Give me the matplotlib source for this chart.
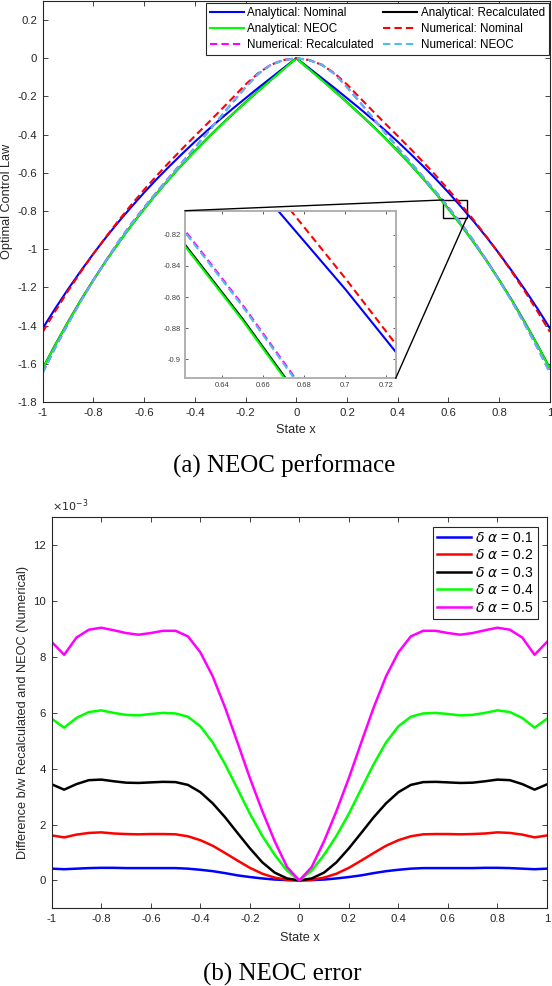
import matplotlib
matplotlib.use("Agg")
import matplotlib.pyplot as plt
from matplotlib.ticker import FormatStrFormatter
from matplotlib.patches import Rectangle, ConnectionPatch

plt.rcParams['font.family'] = ['Liberation Sans', 'DejaVu Sans']
plt.rcParams['axes.unicode_minus'] = False
plt.rcParams['mathtext.fontset'] = 'dejavusans'

# state grid (both panels)
state_x = [-1.0, -0.95, -0.9, -0.85, -0.8, -0.75, -0.7, -0.65, -0.6, -0.55, -0.5,
           -0.45, -0.4, -0.35, -0.3, -0.25, -0.2, -0.15, -0.1, -0.05, 0.0,
           0.05, 0.1, 0.15, 0.2, 0.25, 0.3, 0.35, 0.4, 0.45, 0.5,
           0.55, 0.6, 0.65, 0.7, 0.75, 0.8, 0.85, 0.9, 0.95, 1.0]

# ---- panel (a): optimal control law ----
analytical_nominal = [-1.414, -1.309, -1.209, -1.114, -1.023, -0.937, -0.855, -0.778, -0.703, -0.632, -0.565,
                      -0.500, -0.437, -0.377, -0.319, -0.263, -0.209, -0.155, -0.103, -0.051, 0.0,
                      -0.051, -0.103, -0.155, -0.209, -0.263, -0.319, -0.377, -0.437, -0.500, -0.565,
                      -0.632, -0.703, -0.778, -0.855, -0.937, -1.023, -1.114, -1.209, -1.309, -1.414]
analytical_recalc = [-1.624, -1.499, -1.380, -1.267, -1.161, -1.060, -0.965, -0.874, -0.789, -0.707, -0.630,
                     -0.556, -0.486, -0.418, -0.353, -0.291, -0.230, -0.171, -0.113, -0.056, 0.0,
                     -0.056, -0.113, -0.171, -0.230, -0.291, -0.353, -0.418, -0.486, -0.556, -0.630,
                     -0.707, -0.789, -0.874, -0.965, -1.060, -1.161, -1.267, -1.380, -1.499, -1.624]
analytical_neoc = [-1.626, -1.500, -1.381, -1.268, -1.162, -1.061, -0.966, -0.875, -0.790, -0.708, -0.631,
                   -0.557, -0.487, -0.419, -0.354, -0.292, -0.231, -0.172, -0.114, -0.057, 0.0,
                   -0.057, -0.114, -0.172, -0.231, -0.292, -0.354, -0.419, -0.487, -0.557, -0.631,
                   -0.708, -0.790, -0.875, -0.966, -1.061, -1.162, -1.268, -1.381, -1.500, -1.626]
numerical_nominal = [-1.433, -1.323, -1.218, -1.119, -1.024, -0.934, -0.848, -0.766, -0.688, -0.614, -0.543,
                     -0.474, -0.407, -0.341, -0.274, -0.206, -0.137, -0.078, -0.034, -0.009, 0.0,
                     -0.009, -0.034, -0.078, -0.137, -0.206, -0.274, -0.341, -0.407, -0.474, -0.543,
                     -0.614, -0.688, -0.766, -0.848, -0.934, -1.024, -1.119, -1.218, -1.323, -1.433]
numerical_recalc = [-1.646, -1.514, -1.390, -1.272, -1.162, -1.057, -0.957, -0.865, -0.780, -0.699, -0.621,
                    -0.544, -0.467, -0.389, -0.309, -0.229, -0.151, -0.081, -0.033, -0.009, 0.0,
                    -0.009, -0.033, -0.081, -0.151, -0.229, -0.309, -0.389, -0.467, -0.544, -0.621,
                    -0.699, -0.780, -0.865, -0.957, -1.057, -1.162, -1.272, -1.390, -1.514, -1.646]
numerical_neoc = [-1.647, -1.515, -1.391, -1.273, -1.163, -1.058, -0.958, -0.866, -0.781, -0.700, -0.622,
                  -0.545, -0.468, -0.390, -0.310, -0.230, -0.152, -0.082, -0.034, -0.009, 0.0,
                  -0.009, -0.034, -0.082, -0.152, -0.230, -0.310, -0.390, -0.468, -0.545, -0.622,
                  -0.700, -0.781, -0.866, -0.958, -1.058, -1.163, -1.273, -1.391, -1.515, -1.647]

# ---- panel (b): recalculated - NEOC (numerical), in units of 1e-3 ----
err_01 = [0.42, 0.40, 0.42, 0.44, 0.45, 0.45, 0.44, 0.44, 0.44, 0.44, 0.44,
          0.42, 0.38, 0.33, 0.26, 0.18, 0.12, 0.07, 0.03, 0.01, 0.0,
          0.01, 0.03, 0.07, 0.12, 0.18, 0.26, 0.33, 0.38, 0.42, 0.44,
          0.44, 0.44, 0.44, 0.44, 0.45, 0.45, 0.44, 0.42, 0.40, 0.42]
err_02 = [1.61, 1.54, 1.64, 1.70, 1.72, 1.68, 1.66, 1.65, 1.66, 1.66, 1.65,
          1.58, 1.44, 1.24, 0.98, 0.71, 0.45, 0.24, 0.10, 0.02, 0.0,
          0.02, 0.10, 0.24, 0.45, 0.71, 0.98, 1.24, 1.44, 1.58, 1.65,
          1.66, 1.66, 1.65, 1.66, 1.68, 1.72, 1.70, 1.64, 1.54, 1.61]
err_03 = [3.44, 3.25, 3.45, 3.59, 3.61, 3.55, 3.50, 3.49, 3.51, 3.53, 3.52,
          3.42, 3.16, 2.76, 2.26, 1.70, 1.15, 0.65, 0.28, 0.07, 0.0,
          0.07, 0.28, 0.65, 1.15, 1.70, 2.26, 2.76, 3.16, 3.42, 3.52,
          3.53, 3.51, 3.49, 3.50, 3.55, 3.61, 3.59, 3.45, 3.25, 3.44]
err_04 = [5.79, 5.47, 5.82, 6.03, 6.09, 6.00, 5.93, 5.91, 5.96, 6.00, 5.98,
          5.86, 5.52, 4.94, 4.16, 3.28, 2.39, 1.60, 0.92, 0.35, 0.0,
          0.35, 0.92, 1.60, 2.39, 3.28, 4.16, 4.94, 5.52, 5.86, 5.98,
          6.00, 5.96, 5.91, 5.93, 6.00, 6.09, 6.03, 5.82, 5.47, 5.79]
err_05 = [8.54, 8.08, 8.70, 8.98, 9.05, 8.96, 8.86, 8.80, 8.86, 8.94, 8.94,
          8.74, 8.17, 7.31, 6.19, 4.94, 3.67, 2.49, 1.41, 0.48, 0.0,
          0.48, 1.41, 2.49, 3.67, 4.94, 6.19, 7.31, 8.17, 8.74, 8.94,
          8.94, 8.86, 8.80, 8.86, 8.96, 9.05, 8.98, 8.70, 8.08, 8.54]
err_labels = [r'$\delta\ \alpha$ = 0.1', r'$\delta\ \alpha$ = 0.2', r'$\delta\ \alpha$ = 0.3',
              r'$\delta\ \alpha$ = 0.4', r'$\delta\ \alpha$ = 0.5']

AXC = '#262626'
CYAN = (0.301, 0.745, 0.933)


def style_axes(ax, size):
    for s in ax.spines.values():
        s.set_color(AXC)
        s.set_linewidth(0.8)
    ax.tick_params(direction='in', top=True, right=True, length=3.5, width=0.6,
                   colors=AXC, labelsize=size, pad=4)
    ax.xaxis.set_major_formatter(FormatStrFormatter('%g'))
    ax.yaxis.set_major_formatter(FormatStrFormatter('%g'))


def draw_control(ax, lw):
    l1, = ax.plot(state_x, analytical_nominal, color='blue', lw=lw, label='Analytical: Nominal')
    l2, = ax.plot(state_x, analytical_recalc, color='black', lw=lw, label='Analytical: Recalculated')
    l3, = ax.plot(state_x, analytical_neoc, color=(0, 1, 0), lw=lw, label='Analytical: NEOC')
    l4, = ax.plot(state_x, numerical_nominal, color='red', lw=lw, ls='--', dashes=(3.5, 2),
                  label='Numerical: Nominal')
    l5, = ax.plot(state_x, numerical_recalc, color='magenta', lw=lw, ls='--', dashes=(3.5, 2),
                  label='Numerical: Recalculated')
    l6, = ax.plot(state_x, numerical_neoc, color=CYAN, lw=lw, ls='--', dashes=(3.5, 2),
                  label='Numerical: NEOC')
    return [l1, l2, l3, l4, l5, l6]


fig = plt.figure(figsize=(5.52, 9.86), dpi=100)

# ---------------- (a) ----------------
ax = fig.add_axes([0.0774, 0.5923, 0.9188, 0.4067])
lines = draw_control(ax, 1.5)
ax.set_xlim(-1, 1)
ax.set_ylim(-1.8, 0.3)
ax.set_xticks([-1, -0.8, -0.6, -0.4, -0.2, 0, 0.2, 0.4, 0.6, 0.8, 1])
ax.set_yticks([-1.8, -1.6, -1.4, -1.2, -1, -0.8, -0.6, -0.4, -0.2, 0, 0.2])
style_axes(ax, 8.2)
ax.set_xlabel('State x', fontsize=9.2, color=AXC)
ax.set_ylabel('Optimal Control Law', fontsize=9.2, color=AXC)
ax.xaxis.set_label_coords(0.5, -0.055)
ax.yaxis.set_label_coords(-0.059, 0.5)

order = [0, 2, 4, 1, 3, 5]
leg = ax.legend([lines[i] for i in order], [lines[i].get_label() for i in order],
                ncol=2, loc='upper right', bbox_to_anchor=(0.998, 0.994), borderaxespad=0,
                fontsize=8.4, handlelength=2.9, handletextpad=0.3, columnspacing=0.8,
                labelspacing=0.32, borderpad=0.35, fancybox=False, framealpha=1)
leg.get_frame().set_edgecolor(AXC)
leg.get_frame().set_linewidth(0.8)

# zoom box
box_x, box_y, box_w, box_h = 0.58, -0.836, 0.092, 0.094
ax.add_patch(Rectangle((box_x, box_y), box_w, box_h, fill=False, ec='black', lw=1))

# inset
axins = fig.add_axes([0.3351, 0.6163, 0.3817, 0.170])
draw_control(axins, 1.5)
axins.set_xlim(0.622, 0.7245)
axins.set_ylim(-0.9122, -0.8046)
axins.set_xticks([0.64, 0.66, 0.68, 0.70, 0.72])
axins.set_yticks([-0.9, -0.88, -0.86, -0.84, -0.82])
style_axes(axins, 5.5)
for s in axins.spines.values():
    s.set_color('#b0b0b0')
    s.set_linewidth(1.4)
axins.tick_params(length=2.5, pad=3, colors='#404040')

for pa, pb in [((box_x, box_y + box_h), (0, 1)), ((box_x + box_w, box_y), (1, 0))]:
    con = ConnectionPatch(xyA=pa, coordsA=ax.transData, xyB=pb, coordsB=axins.transAxes,
                          color='black', lw=1)
    fig.add_artist(con)

fig.text(284 / 552, 1 - 466 / 986, '(a) NEOC performace', ha='center', va='center',
         family='Liberation Serif', fontsize=18)

# ---------------- (b) ----------------
bx = fig.add_axes([0.0938, 0.0788, 0.8971, 0.3964])
colors_b = ['blue', 'red', 'black', (0, 1, 0), 'magenta']
for vals, c, lab in zip([err_01, err_02, err_03, err_04, err_05], colors_b, err_labels):
    bx.plot(state_x, vals, color=c, lw=1.8, label=lab)
bx.set_xlim(-1, 1)
bx.set_ylim(-1, 13)
bx.set_xticks([-1, -0.8, -0.6, -0.4, -0.2, 0, 0.2, 0.4, 0.6, 0.8, 1])
bx.set_yticks([0, 2, 4, 6, 8, 10, 12])
style_axes(bx, 8.2)
bx.text(0.0, 1.008, r'$\times10^{-3}$', transform=bx.transAxes, fontsize=8, color=AXC,
        ha='left', va='bottom')
bx.set_xlabel('State x', fontsize=9.2, color=AXC)
bx.set_ylabel('Difference b/w Recalculated and NEOC (Numerical)', fontsize=9.2, color=AXC)
bx.xaxis.set_label_coords(0.5, -0.06)
bx.yaxis.set_label_coords(-0.047, 0.5)
leg2 = bx.legend(loc='upper right', bbox_to_anchor=(0.982, 0.9765), borderaxespad=0,
                 fontsize=10, handlelength=2.4, handletextpad=0.3, labelspacing=0.25,
                 borderpad=0.3, fancybox=False, framealpha=1)
leg2.get_frame().set_edgecolor(AXC)
leg2.get_frame().set_linewidth(0.8)

fig.text(282 / 552, 1 - 974 / 986, '(b) NEOC error', ha='center', va='center',
         family='Liberation Serif', fontsize=18)

fig.savefig('out.png', dpi=100)
